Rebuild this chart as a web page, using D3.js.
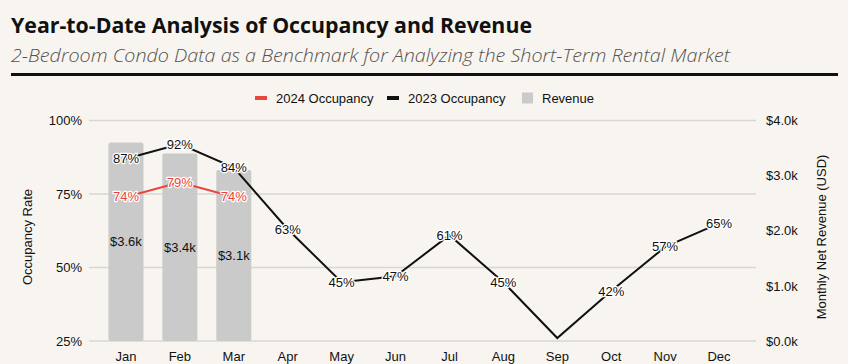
<!DOCTYPE html>
<html>
<head>
<meta charset="utf-8">
<script src="https://cdn.jsdelivr.net/npm/d3@7"></script>
<style>
  body { margin: 0; background: #f8f5f1; }
  svg { display: block; }
  text { font-family: "Liberation Sans", Arial, sans-serif; }
</style>
</head>
<body>
<div id="chart"></div>
<script>
// chart data
let months = ["Jan", "Feb", "Mar", "Apr", "May", "Jun", "Jul", "Aug", "Sep", "Oct", "Nov", "Dec"];
let occ2023 = [87, 92, 84, 63, 45, 47, 61, 45, 26, 42, 57, 65];
let occ2024 = [74, 79, 74];
let revenue = [3600, 3400, 3100];
let occTicks = [25, 50, 75, 100];
let revTicks = [0, 1000, 2000, 3000, 4000];
let noLabel = ["Sep"];

let width = 848,
    height = 364;

let svg = d3.select("#chart").append("svg")
      .attr("width", width)
      .attr("height", height);

svg.append("rect").attr("width", width).attr("height", height).attr("fill", "#f8f5f1");

// header
svg.append("text")
    .attr("x", 11).attr("y", 33)
    .attr("textLength", 521).attr("lengthAdjust", "spacingAndGlyphs")
    .style("font-family", "'Open Sans', sans-serif")
    .style("font-weight", 700).style("font-size", "21px")
    .style("fill", "#111")
    .text("Year-to-Date Analysis of Occupancy and Revenue");

svg.append("text")
    .attr("x", 11).attr("y", 62)
    .attr("textLength", 719).attr("lengthAdjust", "spacingAndGlyphs")
    .style("font-family", "'Open Sans', sans-serif")
    .style("font-style", "italic").style("font-weight", 300).style("font-size", "19px")
    .style("fill", "#55524f")
    .text("2-Bedroom Condo Data as a Benchmark for Analyzing the Short-Term Rental Market");

svg.append("rect").attr("x", 11).attr("y", 73).attr("width", 827).attr("height", 3).attr("fill", "#111");

// scales
let x = d3.scaleBand().domain(months).range([99, 746]).paddingInner(0.35).paddingOuter(0.175);
let yOcc = d3.scaleLinear().domain([25, 100]).range([341, 120.5]);
let yRev = d3.scaleLinear().domain([0, 4000]).range([341, 120.5]);
let cx = function(m) { return x(m) + x.bandwidth() / 2; };

// gridlines
svg.append("g").selectAll("line")
    .data(occTicks).enter().append("line")
    .attr("x1", 89).attr("x2", 756)
    .attr("y1", d => yOcc(d)).attr("y2", d => yOcc(d))
    .style("stroke", "#d9d6d2").style("stroke-width", 1.5);

// left axis
let left = svg.append("g")
    .attr("transform", "translate(89,0)")
    .call(d3.axisLeft(yOcc).tickValues(occTicks).tickSize(0).tickPadding(7).tickFormat(d => d + "%"));
left.select(".domain").remove();

// right axis
let right = svg.append("g")
    .attr("transform", "translate(756,0)")
    .call(d3.axisRight(yRev).tickValues(revTicks).tickSize(0).tickPadding(10)
      .tickFormat(d => "$" + d3.format(".1f")(d / 1000) + "k"));
right.select(".domain").remove();

// bottom axis
let bottom = svg.append("g")
    .attr("transform", "translate(0,341)")
    .call(d3.axisBottom(x).tickSize(0).tickPadding(11));
bottom.select(".domain").remove();

svg.selectAll(".tick text")
    .style("font-family", "'Liberation Sans', Arial, sans-serif")
    .style("font-size", "13px").style("fill", "#111");

// axis titles
svg.append("text")
    .attr("transform", "translate(32,237) rotate(-90)")
    .attr("text-anchor", "middle")
    .style("font-size", "13px").style("fill", "#111")
    .text("Occupancy Rate");

svg.append("text")
    .attr("transform", "translate(826,237) rotate(-90)")
    .attr("text-anchor", "middle")
    .style("font-size", "13px").style("fill", "#111")
    .text("Monthly Net Revenue (USD)");

// bars
let revData = revenue.map((v, i) => ({ m: months[i], v: v }));
svg.append("g").selectAll("rect")
    .data(revData).enter().append("rect")
    .attr("x", d => x(d.m))
    .attr("y", d => yRev(d.v))
    .attr("width", x.bandwidth())
    .attr("height", d => yRev(0) - yRev(d.v))
    .attr("rx", 2)
    .style("fill", "#cbcaca");

svg.append("g").selectAll("text")
    .data(revData).enter().append("text")
    .attr("x", d => cx(d.m))
    .attr("y", d => (yRev(d.v) + yRev(0)) / 2)
    .attr("text-anchor", "middle").attr("dy", "0.35em")
    .style("font-size", "13px").style("fill", "#111")
    .text(d => "$" + d3.format(".1f")(d.v / 1000) + "k");

// lines
let line = d3.line()
      .x(d => cx(d.m))
      .y(d => yOcc(d.v));

let data23 = occ2023.map((v, i) => ({ m: months[i], v: v }));
let data24 = occ2024.map((v, i) => ({ m: months[i], v: v }));

svg.append("path").datum(data23)
    .attr("d", line)
    .style("fill", "none").style("stroke", "#111").style("stroke-width", 2);

svg.append("path").datum(data24)
    .attr("d", line)
    .style("fill", "none").style("stroke", "#e8453c").style("stroke-width", 2);

//Labels with halo
function pointLabels(data, color) {
  let g = svg.append("g");
  g.selectAll("text")
      .data(data.filter(d => noLabel.indexOf(d.m) < 0)).enter().append("text")
      .attr("x", d => cx(d.m))
      .attr("y", d => yOcc(d.v))
      .attr("text-anchor", "middle").attr("dy", "0.35em")
      .style("font-size", "13px")
      .style("fill", color)
      .style("stroke", "#fff").style("stroke-width", 2.5)
      .style("paint-order", "stroke")
      .style("stroke-linejoin", "round")
      .text(d => d.v + "%");
}
pointLabels(data23, "#111");
pointLabels(data24, "#e8453c");

// legend
let legend = [
  { name: "2024 Occupancy", color: "#e8453c", x: 255, h: 4 },
  { name: "2023 Occupancy", color: "#111", x: 387, h: 4 },
  { name: "Revenue", color: "#cbcaca", x: 522, h: 11 }
];
let lg = svg.append("g").selectAll("g")
    .data(legend).enter().append("g")
    .attr("transform", d => "translate(" + d.x + ",98)");
lg.append("rect")
    .attr("x", 0).attr("y", d => -d.h / 2)
    .attr("width", d => d.h > 5 ? 11 : 12).attr("height", d => d.h)
    .style("fill", d => d.color);
lg.append("text")
    .attr("x", d => d.h > 5 ? 20 : 21).attr("dy", "0.35em")
    .style("font-size", "13px").style("fill", "#111")
    .text(d => d.name);
</script>
</body>
</html>
